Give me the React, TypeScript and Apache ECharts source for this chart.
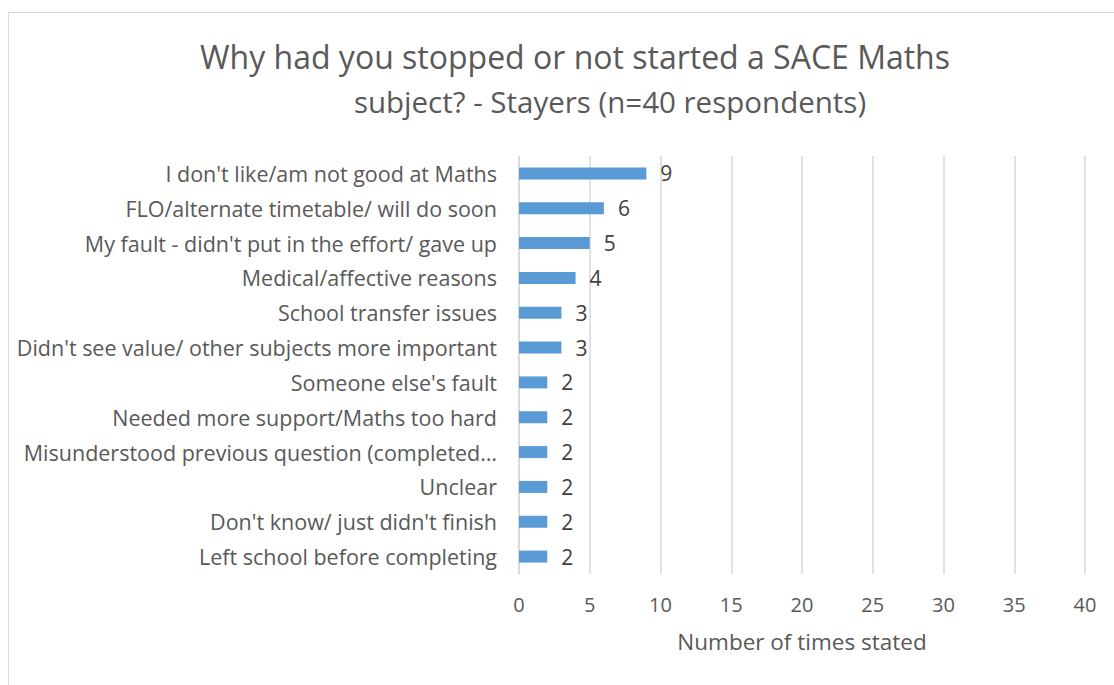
import React, { useEffect, useRef } from "react";
import * as echarts from "echarts";

const titleLine1 = "Why had you stopped or not started a SACE Maths";
const titleLine2 = "subject? - Stayers (n=40 respondents)";
const categories = [
  "I don't like/am not good at Maths",
  "FLO/alternate timetable/ will do soon",
  "My fault - didn't put in the effort/ gave up",
  "Medical/affective reasons",
  "School transfer issues",
  "Didn't see value/ other subjects more important",
  "Someone else's fault",
  "Needed more support/Maths too hard",
  "Misunderstood previous question (completed…",
  "Unclear",
  "Don't know/ just didn't finish",
  "Left school before completing",
];
const values = [9, 6, 5, 4, 3, 3, 2, 2, 2, 2, 2, 2];
const xAxisName = "Number of times stated";

export default function App() {
  const ref = useRef<HTMLDivElement>(null);
  useEffect(() => {
    document.body.style.margin = "0";
    document.body.style.overflow = "hidden";
    const chart = echarts.init(ref.current!, undefined, { renderer: "svg" });
    const font = "'Open Sans', sans-serif";
    chart.setOption({
      animation: false,
      backgroundColor: "#ffffff",
      textStyle: { fontFamily: font },
      title: [
        {
          text: titleLine1,
          left: 570,
          top: 35,
          textAlign: "center",
          textStyle: { fontFamily: font, fontSize: 32, fontWeight: "normal", color: "#595959" },
        },
        {
          text: titleLine2,
          left: 605,
          top: 81,
          textAlign: "center",
          textStyle: { fontFamily: font, fontSize: 29.5, fontWeight: "normal", color: "#595959" },
        },
      ],
      graphic: [
        {
          type: "rect",
          shape: { x: 8.5, y: 12.5, width: 1200, height: 800 },
          style: { fill: "none", stroke: "#d9d9d9", lineWidth: 1 },
          silent: true,
        },
      ],
      grid: { left: 519, right: 29, top: 156, bottom: 111, containLabel: false },
      xAxis: {
        type: "value",
        min: 0,
        max: 40,
        interval: 5,
        name: xAxisName,
        nameLocation: "middle",
        nameGap: 56,
        nameTextStyle: { fontFamily: font, fontSize: 22.5, color: "#595959" },
        axisLine: { show: false },
        axisTick: { show: false },
        axisLabel: { fontFamily: font, fontSize: 20, color: "#595959", margin: 20 },
        splitLine: { show: true, lineStyle: { color: "#d9d9d9", width: 1.5 } },
      },
      yAxis: {
        type: "category",
        data: categories,
        inverse: true,
        axisLine: { show: true, lineStyle: { color: "#d9d9d9", width: 1.5 } },
        axisTick: { show: false },
        axisLabel: { fontFamily: font, fontSize: 21.5, color: "#595959", margin: 22 },
      },
      series: [
        {
          type: "bar",
          data: values,
          barWidth: 12,
          itemStyle: { color: "#5b9bd5" },
          label: {
            show: true,
            position: "right",
            distance: 14,
            fontFamily: font,
            fontSize: 21,
            color: "#404040",
          },
        },
      ],
    });
    return () => chart.dispose();
  }, []);
  return (
    <div
      ref={ref}
      style={{ position: "fixed", left: 0, top: 0, width: 1114, height: 685 }}
    />
  );
}
